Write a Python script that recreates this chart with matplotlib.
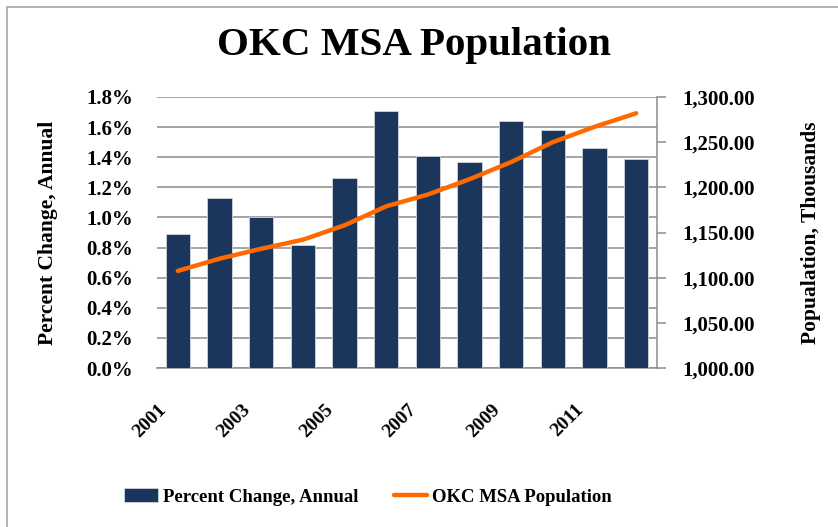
import matplotlib
matplotlib.use("Agg")
import matplotlib.pyplot as plt
import matplotlib.transforms as mtransforms
from matplotlib.patches import Rectangle
from matplotlib.ticker import FuncFormatter, MultipleLocator

## Data
years = list(range(2001, 2013))
pct_change = [0.89, 1.13, 1.00, 0.82, 1.26, 1.71, 1.41, 1.37, 1.64, 1.58, 1.46, 1.39]
population = [1107.5, 1121, 1132, 1142, 1158, 1179, 1192, 1209, 1228, 1250, 1267, 1282]
tick_years = [2001, 2003, 2005, 2007, 2009, 2011]

bar_color = '#1B365D'
line_color = '#FF6A00'
grid_color = '#8C8C8C'

plt.rcParams['font.family'] = ['Liberation Serif', 'DejaVu Serif']

fig = plt.figure(figsize=(8.38, 5.27), dpi=100)
ax = fig.add_axes([157 / 838, 1 - 368 / 527, 500 / 838, 271 / 527])
ax2 = ax.twinx()

# bars on left axis
ax.bar(years, pct_change, width=0.58, color=bar_color, edgecolor='#D0D5DD',
       linewidth=0.6, zorder=3, label='Percent Change, Annual')
ax.set_ylim(0, 1.8)
ax.set_xlim(years[0] - 0.5, years[-1] + 0.5)
ax.yaxis.set_major_locator(MultipleLocator(0.2))
ax.yaxis.set_major_formatter(FuncFormatter(lambda v, p: '%.1f%%' % v))
ax.yaxis.grid(True, color=grid_color, linewidth=1.1, zorder=0)
ax.set_axisbelow(True)
ax.set_xticks(tick_years)
ax.set_xticklabels([str(y) for y in tick_years], rotation=45, ha='right',
                   rotation_mode='anchor', fontsize=14, fontweight='bold')
ax.tick_params(axis='x', length=0, pad=24)
shift = mtransforms.ScaledTranslation(-20 / 100, 0, fig.dpi_scale_trans)
for lab in ax.get_xticklabels():
    lab.set_transform(lab.get_transform() + shift)
ax.tick_params(axis='y', length=0, pad=17, labelsize=15)
for lab in ax.get_yticklabels():
    lab.set_fontweight('bold')
for s in ['left', 'top', 'right']:
    ax.spines[s].set_visible(False)
ax.spines['bottom'].set_color(grid_color)
ax.spines['bottom'].set_linewidth(1.1)
ax.set_ylabel('Percent Change, Annual', fontsize=15.5, fontweight='bold')
ax.yaxis.label.set_va('center')
ax.yaxis.set_label_coords((48 - 157) / 500, 0.5)

# population line on right axis
ax2.plot(years, population, color=line_color, linewidth=3.2,
         solid_capstyle='round', zorder=4, label='OKC MSA Population')
ax2.set_ylim(1000, 1300)
ax2.yaxis.set_major_locator(MultipleLocator(50))
ax2.yaxis.set_major_formatter(FuncFormatter(lambda v, p: '{:,.2f}'.format(v)))
ax2.tick_params(axis='y', direction='out', length=6.5, width=1.1, color=grid_color,
                pad=12, labelsize=15)
for lab in ax2.get_yticklabels():
    lab.set_fontweight('bold')
for s in ['left', 'top', 'bottom']:
    ax2.spines[s].set_visible(False)
ax2.spines['right'].set_color(grid_color)
ax2.spines['right'].set_linewidth(1.1)
ax2.set_ylabel('Popualation, Thousands', fontsize=15.5, fontweight='bold')
ax2.yaxis.label.set_va('center')
ax2.yaxis.set_label_coords((811 - 157) / 500, 0.5)

fig.text(414 / 838, 1 - 46 / 527, 'OKC MSA Population', ha='center', va='center',
         fontsize=29.5, fontweight='bold')

h1, l1 = ax.get_legend_handles_labels()
h2, l2 = ax2.get_legend_handles_labels()
fig.legend(h1 + h2, l1 + l2, loc='center', bbox_to_anchor=(368 / 838, 1 - 497 / 527),
           ncol=2, frameon=False, prop={'weight': 'bold', 'size': 13.5},
           handlelength=1.8, handletextpad=0.25, columnspacing=1.9)

# chart border
fig.patches.append(Rectangle((7 / 838, -0.02), 1.0, 1 - 7 / 527 + 0.02,
                             transform=fig.transFigure, fill=False,
                             edgecolor='#A6A6A6', linewidth=1.2))

fig.savefig('out.png', dpi=100)
